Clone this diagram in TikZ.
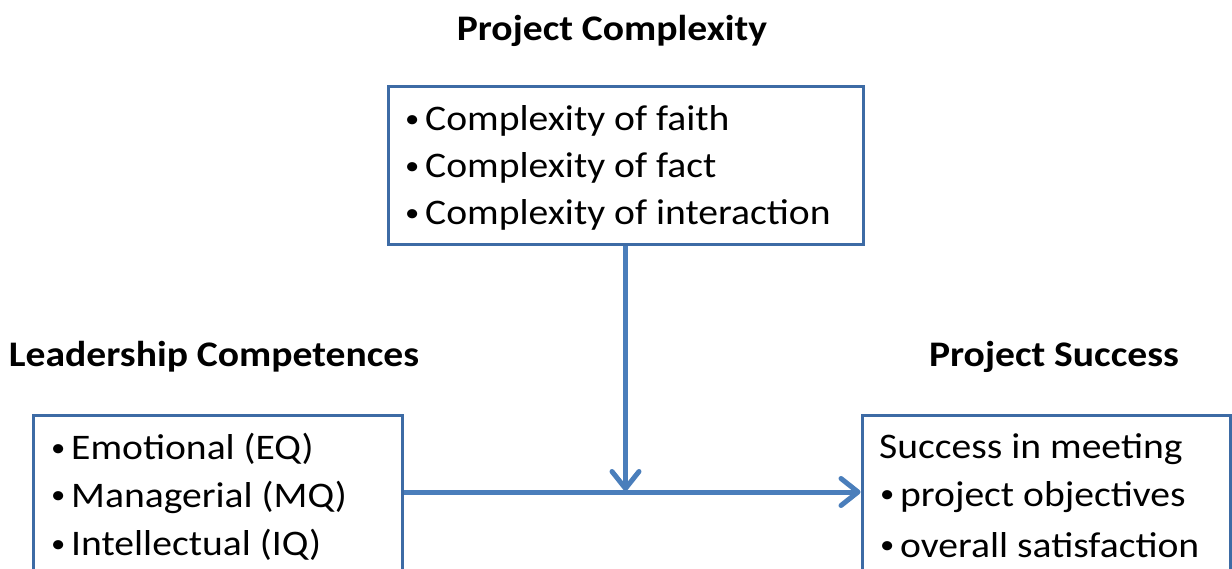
\documentclass[tikz,border=0pt]{standalone}
\usepackage{fontspec}
\setmainfont[FakeStretch=1.1]{Carlito}
\usetikzlibrary{arrows.meta}
\definecolor{boxblue}{HTML}{3D6BA5}
\definecolor{arrowblue}{HTML}{4A7EBB}
\newcommand{\bl}{\makebox[20pt][l]{\raisebox{3.5pt}{\fontsize{26}{26}\selectfont\textbullet}}}
\begin{document}
\begin{tikzpicture}[x=1pt,y=-1pt,
  box/.style={draw=boxblue,line width=3pt,rectangle,inner sep=0pt},
  txt/.style={anchor=west,inner sep=0pt,font=\fontsize{36}{47}\selectfont,align=left},
  ttl/.style={inner sep=0pt,font=\fontsize{36}{40}\selectfont\bfseries},
  conn/.style={draw=arrowblue,line width=5pt,-{Straight Barb[length=17pt,width=27pt,line cap=round,line join=round]}}]
\useasboundingbox (0,0) rectangle (1232,569);
\clip (0,0) rectangle (1232,569);
\node[box,minimum width=475pt,minimum height=158pt] (pc) at (625.5,166) {};
\node[box,minimum width=369pt,minimum height=260pt] (lc) at (218,545) {};
\node[box,minimum width=368pt,minimum height=260pt] (ps) at (1046,545) {};
\node[ttl] (tpc) at (612,31) {Project Complexity};
\node[ttl] (tlc) at (214,357) {Leadership Competences};
\node[ttl] (tps) at (1054,357) {Project Success};
\node[txt] (pc1) at (405,121) {\bl Complexity of faith};
\node[txt] (pc2) at (405,168) {\bl Complexity of fact};
\node[txt] (pc3) at (405,215) {\bl Complexity of interaction};
\node[txt] (lc1) at (51,449) {\bl Emotional (EQ)};
\node[txt] (lc2) at (51,497) {\bl Managerial (MQ)};
\node[txt] (lc3) at (51,545) {\bl Intellectual (IQ)};
\node[txt] (ps1) at (879,449) {Success in meeting};
\node[txt] (ps2) at (880,497) {\bl project objectives};
\node[txt] (ps3) at (880,545) {\bl overall satisfaction};
\coordinate (j) at (pc.south |- 0,492);
\draw[conn] (lc.east |- j) -- (ps.west |- j);
\draw[conn,shorten >=1pt] (pc.south) -- (j);
\end{tikzpicture}
\end{document}
